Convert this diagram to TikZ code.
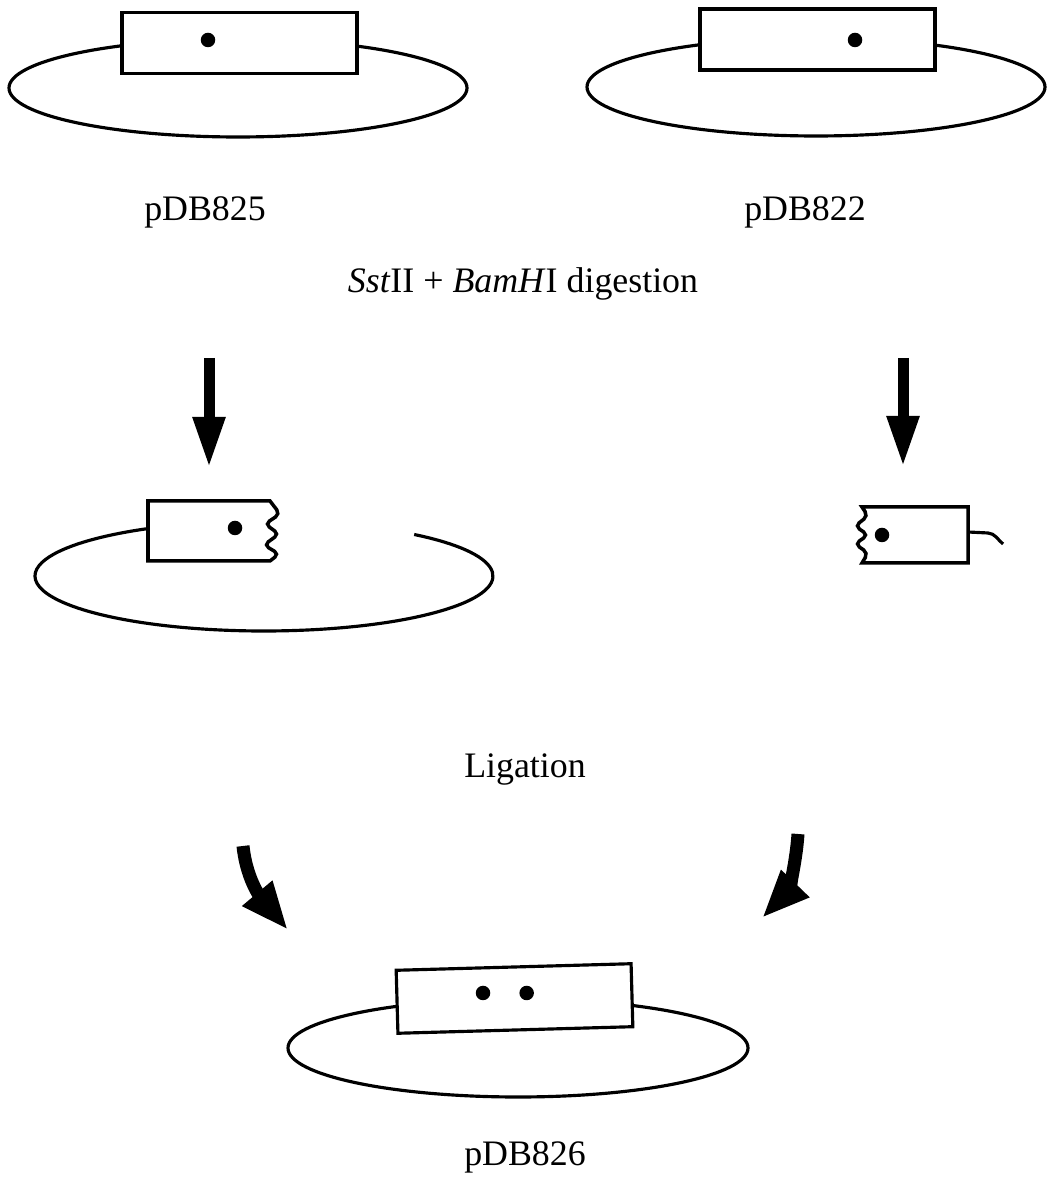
\documentclass[tikz,border=0pt]{standalone}
\usepackage{fontspec}
\setmainfont{Liberation Serif}
\usetikzlibrary{positioning,shapes,arrows.meta}

\begin{document}
\begin{tikzpicture}[x=0.1mm, y=0.1mm, line width=0.9pt]
    \tikzstyle{ring} = [ellipse, draw, minimum width=45.8mm, minimum height=9.8mm, inner sep=0pt]
    \tikzstyle{insert} = [rectangle, draw, fill=white, minimum width=23.5mm, minimum height=6.1mm, inner sep=0pt]
    \tikzstyle{site} = [circle, fill=black, inner sep=0pt, minimum size=1.45mm]
    \tikzstyle{caption} = [font=\fontsize{10.2}{12}\selectfont]
    \tikzstyle{bigarrow} = [line width=1.1mm, -{Triangle[length=5.1mm, width=3mm]}]
    \tikzstyle{bentarrow} = [line width=1.3mm, -{Triangle[length=4.8mm, width=3.6mm]}]

    \useasboundingbox (0,0) rectangle (1046,1200);

    % pDB825
    \node[ring] (ring825) at (238,1112) {};
    \node[insert] (box825) at (239.5,1157) {};
    \node[site] (dot825) at (208,1160) {};
    \node[caption] (name825) at (205,988) {pDB825};

    % pDB822
    \node[ring] (ring822) at (816,1113) {};
    \node[insert] (box822) at (817.5,1160.5) {};
    \node[site] (dot822) at (855,1160) {};
    \node[caption] (name822) at (805,988) {pDB822};

    \node[caption] (digest) at (523,916) {\textit{Sst}II + \textit{BamH}I digestion};

    % digestion arrows
    \coordinate (cut825) at (209,842);
    \coordinate (frag825) at (209,732);
    \coordinate (cut822) at (903,842);
    \coordinate (frag822) at (903,733);
    \draw[bigarrow] (cut825) -- (frag825);
    \draw[bigarrow] (cut822) -- (frag822);

    % vector fragment (opened ring)
    \coordinate (openend) at (414.2,665.5);
    \draw (openend) arc[start angle=49, end angle=-239, x radius=229, y radius=55];
    \draw[fill=white, line width=1pt] (148,699) -- (270,699)
        [rounded corners=1.5] -- (280,686) -- (265,676) -- (279,666) -- (264,655) -- (279,646)
        [sharp corners] -- (270,639) -- (148,639) -- cycle;
    \node[site] (dotvec) at (235,672) {};

    % insert fragment
    \draw[fill=white, line width=1pt] (862,693) -- (968,693) -- (968,637) -- (862,637)
        [rounded corners=1.5] -- (868,647) -- (855,656) -- (868,665) -- (855,674) -- (868,684)
        [sharp corners] -- cycle;
    \draw (968,668) -- (988,667) to[out=-5, in=140] (1003,656);
    \node[site] (dotins) at (882,665) {};

    \node[caption] (ligate) at (525,430) {Ligation};

    % ligation arrows
    \coordinate (lig825) at (243,354);
    \coordinate (join825) at (288,270);
    \coordinate (lig822) at (798,366);
    \coordinate (join822) at (762,282);
    \draw[bentarrow] (lig825) to[out=-84, in=130] (join825);
    \draw[bentarrow] (lig822) to[out=-94, in=46] (join822);

    % pDB826
    \node[ring, minimum width=46mm] (ring826) at (518,152) {};
    \node[insert, minimum height=6.3mm, rotate=1.6] (box826) at (514.5,201.5) {};
    \node[site] (dotA) at (483,207) {};
    \node[site, right=2.6mm of dotA] (dotB) {};
    \node[caption] (name826) at (525,43) {pDB826};

\end{tikzpicture}
\end{document}
